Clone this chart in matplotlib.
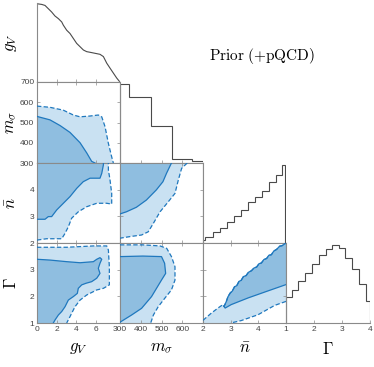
import numpy as np
import matplotlib
matplotlib.use('Agg')
from matplotlib import pyplot as plt

plt.rcParams['mathtext.fontset'] = 'cm'
plt.rcParams['font.family'] = ['Liberation Sans', 'DejaVu Sans']

# rangos de cada parametro
gv_lim = (0, 8.5)
ms_lim = (300, 700)
nb_lim = (2, 5)
ga_lim = (1, 4)

# histogramas de la diagonal (normalizados al maximo del panel)
gv_x = [0.03, 0.48, 0.82, 1.16, 1.50, 1.84, 2.19, 2.53, 2.70, 3.04, 3.38, 3.72, 4.06,
        4.41, 4.75, 5.09, 5.43, 5.94, 6.45, 6.80, 7.14, 7.48, 7.82, 8.16, 8.44]
gv_y = [1.0, 0.992, 0.979, 0.937, 0.895, 0.844, 0.81, 0.768, 0.726, 0.662, 0.62, 0.557, 0.494,
        0.451, 0.409, 0.388, 0.38, 0.367, 0.354, 0.325, 0.241, 0.177, 0.114, 0.051, 0.008]
ms_edges = [300, 344, 447, 550, 649, 700]
ms_h = [0.984, 0.827, 0.457, 0.046, 0.021]
nb_edges = [2.0, 2.08, 2.36, 2.62, 2.88, 3.13, 3.38, 3.63, 3.88, 4.13, 4.4, 4.63, 4.84, 4.98]
nb_h = [0.034, 0.072, 0.135, 0.19, 0.262, 0.338, 0.422, 0.515, 0.586, 0.662, 0.768, 0.861, 0.987]
ga_edges = [1.0, 1.2, 1.44, 1.68, 1.94, 2.18, 2.42, 2.65, 2.89, 3.11, 3.37, 3.61, 3.86, 4.0]
ga_h = [0.333, 0.417, 0.529, 0.633, 0.742, 0.854, 0.929, 0.979, 0.946, 0.821, 0.688, 0.4875, 0.279]

# contornos: 68% (linea solida) y 95% (linea discontinua)
# g_V - m_sigma
gm_sol_x = [0, 1.33, 2.36, 3.38, 4.41, 5.09, 5.6, 5.94]
gm_sol_y = [530, 513, 485, 451, 400, 350, 308, 300]
gm_dash_x = [0, 1.33, 2.69, 3.72, 4.41, 5.43, 6.28, 6.63, 6.97, 7.31, 7.65, 7.82]
gm_dash_y = [581, 575, 561, 537, 528, 532, 537, 528, 479, 397, 330, 300]
# g_V - nbar
gn_sol_x = [0, 0.82, 1.16, 1.5, 2.02, 2.7, 3.38, 4.07, 4.74, 5.43, 6.45, 6.63, 6.8, 6.8]
gn_sol_y = [2.89, 2.89, 2.99, 2.99, 3.24, 3.49, 3.74, 4.05, 4.3, 4.43, 4.43, 4.61, 4.93, 5.0]
gn_dash_x = [0, 0.99, 1.67, 2.53, 2.87, 3.21, 3.55, 4.23, 5.09, 6.12, 7.14, 7.65, 7.65, 7.48, 7.31, 7.31]
gn_dash_y = [2.11, 2.16, 2.16, 2.16, 2.36, 2.61, 2.93, 3.17, 3.36, 3.49, 3.49, 3.46, 3.86, 4.36, 4.74, 5.0]
# g_V - Gamma
gg_sol_x = [0, 1.33, 3.04, 4.41, 5.77, 6.12, 6.45, 6.63, 6.45, 6.28, 6.45, 6.12, 5.6, 5.02,
            4.58, 4.23, 4.13, 3.72, 3.21, 2.87, 2.53, 2.19, 1.84, 1.67]
gg_sol_y = [3.39, 3.36, 3.3, 3.26, 3.3, 3.39, 3.45, 3.39, 3.24, 3.05, 2.86, 2.68, 2.55, 2.49,
            2.43, 2.3, 2.11, 1.99, 1.86, 1.61, 1.43, 1.3, 1.11, 1.0]
gg_dash_x = [0, 3.04, 5.77, 7.14, 7.31, 7.41, 7.41, 6.8, 6.12, 5.09, 4.41, 3.89, 3.38, 3.04]
gg_dash_y = [3.84, 3.84, 3.89, 3.89, 3.74, 3.11, 2.43, 2.3, 2.24, 2.05, 1.86, 1.61, 1.24, 1.0]
# m_sigma - nbar
mn_sol_x = [548, 524, 507, 475, 427, 379, 331, 300]
mn_sol_y = [5.0, 4.61, 4.3, 3.99, 3.61, 3.34, 3.17, 3.09]
mn_dash_x = [624, 597, 581, 565, 533, 493, 461, 436, 404, 348, 300]
mn_dash_y = [5.0, 4.8, 4.36, 3.86, 3.55, 3.17, 2.74, 2.42, 2.3, 2.24, 2.18]
# m_sigma - Gamma
mg_sol_x = [300, 410, 500, 515, 520, 500, 476, 452, 404, 356, 300]
mg_sol_y = [3.49, 3.51, 3.49, 3.24, 2.86, 2.61, 2.3, 1.99, 1.55, 1.3, 1.03]
mg_dash_x = [300, 410, 493, 525, 548, 565, 565, 548, 516, 484, 461, 448]
mg_dash_y = [3.93, 3.93, 3.89, 3.8, 3.49, 3.11, 2.61, 2.24, 1.93, 1.61, 1.3, 1.0]
# nbar - Gamma
ng_top_x = [2.0, 2.3, 2.54, 2.72, 2.76, 2.84, 2.9, 2.98, 3.06, 3.14, 3.22, 3.3, 3.38, 3.46, 3.56,
            3.64, 3.75, 3.84, 3.94, 4.02, 4.11, 4.2, 4.3, 4.38, 4.47, 4.56, 4.66, 4.77, 4.86, 4.97, 5.0]
ng_top_y = [1.1, 1.37, 1.56, 1.69, 1.62, 1.8, 1.98, 2.12, 2.2, 2.36, 2.4, 2.56, 2.6, 2.74, 2.78,
            2.9, 2.96, 3.06, 3.1, 3.22, 3.25, 3.38, 3.42, 3.54, 3.56, 3.7, 3.76, 3.88, 3.9, 3.98, 4.0]
ng_sol_x = [2.76, 2.8, 3.02, 3.63, 4.23, 5.0]
ng_sol_y = [1.62, 1.56, 1.69, 1.94, 2.16, 2.44]
ng_dash_x = [5.0, 4.59, 3.99, 3.38, 3.0]
ng_dash_y = [1.81, 1.66, 1.31, 1.09, 1.0]

c_dark = '#8fbee0'
c_light = '#c9e1f2'
c_line = '#1f78be'
c_hist = '#4a4a4a'
c_spine = '#8a8a8a'
dash = (0, (3.5, 1.8))

W, H = 374, 367
cols = [37, 120, 203, 286, 370]
rows = [3, 82, 163, 243, 323]

fig = plt.figure(figsize=(W / 100, H / 100), dpi=100)


def caja(i, j):
    x0, x1 = cols[j], cols[j + 1]
    y0, y1 = rows[i], rows[i + 1]
    return fig.add_axes([x0 / W, 1 - y1 / H, (x1 - x0) / W, (y1 - y0) / H])


def estilo(ax, diag=False):
    for s in ax.spines.values():
        s.set_color(c_spine)
        s.set_linewidth(0.8)
    ax.tick_params(direction='in', length=2.5, width=0.5, color=c_spine,
                   labelcolor='#444444', labelsize=6, pad=2,
                   top=not diag, right=not diag)
    if diag:
        ax.spines['top'].set_visible(False)
        ax.spines['right'].set_visible(False)
        ax.set_yticks([])
        ax.set_ylim(0, 1.01)


lims = [gv_lim, ms_lim, nb_lim, ga_lim]
xt = [[0, 2, 4, 6], [300, 400, 500, 600], [2, 3, 4], [1, 2, 3, 4]]
yt = [[0, 2, 4, 6], [300, 400, 500, 600, 700], [2, 3, 4], [1, 2, 3]]
nombres = [r'$g_V$', r'$m_\sigma$', r'$\bar{n}$', r'$\Gamma$']

# paneles 2D: (fila, columna, solida, discontinua, esquina de cierre)
paneles = [
    (1, 0, (gm_sol_x, gm_sol_y), (gm_dash_x, gm_dash_y), [(gv_lim[0], ms_lim[0])]),
    (2, 0, (gn_sol_x, gn_sol_y), (gn_dash_x, gn_dash_y), [(gv_lim[0], nb_lim[1])]),
    (3, 0, (gg_sol_x, gg_sol_y), (gg_dash_x, gg_dash_y), [(gv_lim[0], ga_lim[0])]),
    (2, 1, (mn_sol_x, mn_sol_y), (mn_dash_x, mn_dash_y), [(ms_lim[0], nb_lim[1])]),
    (3, 1, (mg_sol_x, mg_sol_y), (mg_dash_x, mg_dash_y), [(ms_lim[0], ga_lim[0])]),
]

ejes = {}
for i in range(4):
    for j in range(i + 1):
        ax = caja(i, j)
        ejes[(i, j)] = ax
        estilo(ax, diag=(i == j))
        ax.set_xlim(lims[j])
        ax.set_xticks(xt[j])
        if i != j:
            ax.set_ylim(lims[i])
            ax.set_yticks(yt[i])
        if i < 3:
            ax.set_xticklabels([])
        else:
            ax.set_xlabel(nombres[j], fontsize=12)
            ax.xaxis.set_label_coords(0.5, -0.23)
        if j > 0 and i != j:
            ax.set_yticklabels([])
        if j == 0:
            ax.set_ylabel(nombres[i], fontsize=12)
            ax.yaxis.set_label_coords(-0.22, 0.5)

for (i, j, sol, das, esq) in paneles:
    ax = ejes[(i, j)]
    ex = [p[0] for p in esq]
    ey = [p[1] for p in esq]
    ax.fill(list(das[0]) + ex, list(das[1]) + ey, color=c_light, lw=0, zorder=1)
    ax.fill(list(sol[0]) + ex, list(sol[1]) + ey, color=c_dark, lw=0, zorder=2)
    ax.plot(das[0], das[1], color=c_line, lw=0.9, ls=dash, zorder=3)
    ax.plot(sol[0], sol[1], color=c_line, lw=0.9, zorder=3)

# panel nbar - Gamma
ax = ejes[(3, 2)]
k = ng_top_x.index(ng_sol_x[0])
ax.fill(ng_top_x + ng_dash_x + [nb_lim[0]], ng_top_y + ng_dash_y + [ga_lim[0]],
        color=c_light, lw=0, zorder=1)
ax.fill(ng_top_x[k:] + ng_sol_x[::-1], ng_top_y[k:] + ng_sol_y[::-1],
        color=c_dark, lw=0, zorder=2)
ax.plot(ng_top_x[k:], ng_top_y[k:], color=c_line, lw=0.9, zorder=3)
ax.plot(ng_top_x, ng_top_y, color=c_line, lw=0.9, ls=dash, zorder=3)
ax.plot(ng_sol_x, ng_sol_y, color=c_line, lw=0.9, zorder=3)
ax.plot(ng_dash_x, ng_dash_y, color=c_line, lw=0.9, ls=dash, zorder=3)

# diagonal
ejes[(0, 0)].plot(gv_x, gv_y, color=c_hist, lw=0.8)
ejes[(1, 1)].stairs(ms_h, ms_edges, color=c_hist, lw=0.8)
ejes[(2, 2)].stairs(nb_h, nb_edges, color=c_hist, lw=0.8)
ejes[(3, 3)].stairs(ga_h, ga_edges, color=c_hist, lw=0.8)

fig.text(262 / W, 1 - 56 / H, r'$\mathrm{Prior\ (+pQCD)}$', ha='center', va='center', fontsize=11)

fig.savefig('out.png', dpi=100)
